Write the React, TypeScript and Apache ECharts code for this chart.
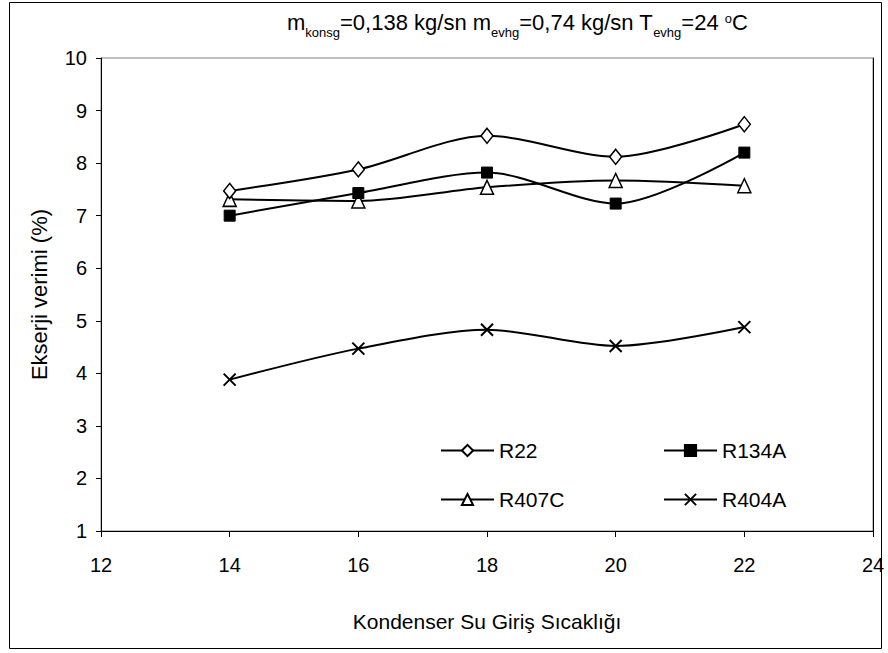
import React, { useEffect, useRef } from "react";
import * as echarts from "echarts";

// Kondenser su giriş sıcaklığı (°C)
const temps = [14, 16, 18, 20, 22];

// Ekserji verimi (%) per refrigerant
const r22 = [7.47, 7.88, 8.52, 8.12, 8.74];
const r134a = [7.0, 7.43, 7.82, 7.23, 8.2];
const r407c = [7.31, 7.28, 7.54, 7.67, 7.57];
const r404a = [3.88, 4.47, 4.83, 4.52, 4.88];

const seriesNames = ["R22", "R134A", "R407C", "R404A"];

const FONT = "'Liberation Sans', Arial, sans-serif";

const pairs = (ys: number[]) => temps.map((t, i) => [t, ys[i]]);

export default function App() {
  const ref = useRef<HTMLDivElement>(null);

  useEffect(() => {
    document.body.style.margin = "0";
    const chart = echarts.init(ref.current!, null, { renderer: "svg" });

    const lineStyle = { color: "#000", width: 2 };
    const legendBase = {
      orient: "horizontal" as const,
      itemWidth: 53,
      itemHeight: 14,
      textStyle: { fontFamily: FONT, fontSize: 21, color: "#000" },
      selectedMode: false,
    };

    chart.setOption({
      animation: false,
      backgroundColor: "#fff",
      title: {
        left: 282,
        top: 0,
        text: "m{sub|konsg}=0,138 kg/sn m{sub|evhg}=0,74 kg/sn T{sub|evhg}=24 {sup|o}C",
        textStyle: {
          fontFamily: FONT,
          fontSize: 22,
          fontWeight: "normal",
          color: "#000",
          lineHeight: 34,
          rich: {
            sub: { fontFamily: FONT, fontSize: 13, color: "#000", verticalAlign: "bottom", lineHeight: 34 },
            sup: {
              fontFamily: FONT,
              fontSize: 13,
              color: "#000",
              verticalAlign: "middle",
              lineHeight: 14,
              padding: [0, 0, 8, 0],
            },
          },
        },
      },
      legend: [
        { ...legendBase, left: 435, top: 435, data: [seriesNames[0]] },
        { ...legendBase, left: 658, top: 435, data: [seriesNames[1]] },
        { ...legendBase, left: 435, top: 484, data: [seriesNames[2]] },
        { ...legendBase, left: 658, top: 484, data: [seriesNames[3]] },
      ],
      grid: {
        left: 101,
        right: 15,
        top: 58,
        bottom: 122,
        show: true,
        borderColor: "#808080",
        borderWidth: 1,
      },
      graphic: [
        {
          type: "rect",
          shape: { x: 9.5, y: 2.5, width: 872, height: 646 },
          style: { fill: "none", stroke: "#000", lineWidth: 1 },
          silent: true,
        },
      ],
      xAxis: {
        type: "value",
        min: 12,
        max: 24,
        interval: 2,
        name: "Kondenser Su Giriş Sıcaklığı",
        nameLocation: "middle",
        nameGap: 80,
        nameTextStyle: { fontFamily: FONT, fontSize: 21, color: "#000" },
        axisLine: { show: true, lineStyle: { color: "#000", width: 1 } },
        axisTick: { show: true, length: 6, lineStyle: { color: "#000" } },
        axisLabel: { fontFamily: FONT, fontSize: 20, color: "#000", margin: 24 },
        splitLine: { show: false },
      },
      yAxis: [
        {
          type: "value",
          min: 1,
          max: 10,
          interval: 1,
          name: "Ekserji verimi (%)",
          nameLocation: "middle",
          nameGap: 51,
          nameTextStyle: { fontFamily: FONT, fontSize: 22, color: "#000" },
          axisLine: { show: true, lineStyle: { color: "#000", width: 1 } },
          axisTick: { show: true, length: 5, lineStyle: { color: "#000" } },
          axisLabel: { fontFamily: FONT, fontSize: 20, color: "#000", margin: 14 },
          splitLine: { show: false },
        },
        {
          type: "value",
          min: 1,
          max: 10,
          interval: 1,
          position: "right",
          axisLine: { show: true, lineStyle: { color: "#000", width: 1 } },
          axisTick: { show: false },
          axisLabel: { show: false },
          splitLine: { show: false },
        },
      ],
      series: [
        {
          name: seriesNames[0],
          type: "line",
          smooth: 0.3,
          data: pairs(r22),
          symbol: "diamond",
          symbolSize: [12, 15],
          lineStyle,
          itemStyle: { color: "#fff", borderColor: "#000", borderWidth: 1.5 },
          z: 4,
        },
        {
          name: seriesNames[1],
          type: "line",
          smooth: 0.3,
          data: pairs(r134a),
          symbol: "rect",
          symbolSize: 11,
          lineStyle,
          itemStyle: { color: "#000", borderColor: "#000", borderWidth: 1 },
          z: 3,
        },
        {
          name: seriesNames[2],
          type: "line",
          smooth: 0.3,
          data: pairs(r407c),
          symbol: "triangle",
          symbolSize: [13, 14],
          lineStyle,
          itemStyle: { color: "#fff", borderColor: "#000", borderWidth: 1.5 },
          z: 2,
        },
        {
          name: seriesNames[3],
          type: "line",
          smooth: 0.3,
          data: pairs(r404a),
          symbol: "path://M0,0L10,10M10,0L0,10",
          symbolSize: 12,
          lineStyle,
          itemStyle: { color: "#000", borderColor: "#000", borderWidth: 2 },
          z: 2,
        },
      ],
    });

    return () => chart.dispose();
  }, []);

  return <div ref={ref} style={{ width: 888, height: 653 }} />;
}
